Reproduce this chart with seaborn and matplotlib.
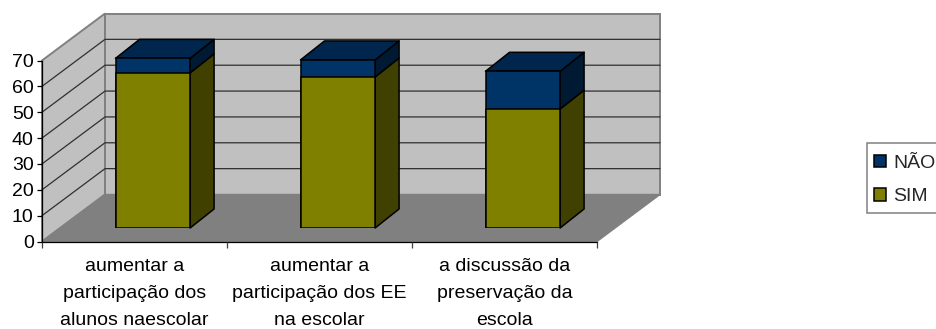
import matplotlib
matplotlib.use('Agg')
import matplotlib.pyplot as plt
from matplotlib.patches import Patch, Polygon, Rectangle
import numpy as np
import seaborn as sns

# dados
categorias = ['aumentar a\nparticipação dos\nalunos naescolar',
              'aumentar a\nparticipação dos EE\nna escolar',
              'a discussão da\npreservação da\nescola']
sim = [60, 58.4, 46]
nao = [5.6, 6.6, 14.6]
y_ticks = [0, 10, 20, 30, 40, 50, 60, 70]

COR_SIM = '#808000'
COR_SIM_LADO = '#404000'
COR_NAO = '#003366'
COR_NAO_TOPO = '#00264d'
COR_NAO_LADO = '#001a33'

sns.set_style('white')
plt.rcParams['font.family'] = ['Liberation Sans', 'DejaVu Sans']

W, H = 937, 329
fig = plt.figure(figsize=(W / 100, H / 100), dpi=100)


def eixo_px(x0, x1, y_base, y_topo):
    return fig.add_axes([x0 / W, 1 - y_base / H, (x1 - x0) / W, (y_base - y_topo) / H])


# parede frontal (eixos)
ax = eixo_px(42, 597, 241.5, 60.5)
ax.set_xlim(-0.5, 2.5)
ax.set_ylim(0, 70)
ax.patch.set_visible(False)

px_x = 185.0
px_y = 181 / 70
fundo_x = 63 / px_x
fundo_y = 47 / px_y

esq, dir_ = -0.5, 2.5
ax.add_patch(Polygon([(esq, 0), (esq + fundo_x, fundo_y), (esq + fundo_x, 70 + fundo_y), (esq, 70)],
                     fc='#c0c0c0', ec='#808080', lw=1.4, clip_on=False, zorder=0.2))
ax.add_patch(Polygon([(esq + fundo_x, fundo_y), (dir_ + fundo_x, fundo_y),
                      (dir_ + fundo_x, 70 + fundo_y), (esq + fundo_x, 70 + fundo_y)],
                     fc='#c0c0c0', ec='#808080', lw=1.4, clip_on=False, zorder=0.2))
ax.add_patch(Polygon([(esq, 0), (dir_, 0), (dir_ + fundo_x, fundo_y), (esq + fundo_x, fundo_y)],
                     fc='#808080', ec='#808080', lw=1, clip_on=False, zorder=0.3))

# grelha nas duas paredes
for v in y_ticks[1:-1]:
    ax.plot([esq, esq + fundo_x, dir_ + fundo_x], [v, v + fundo_y, v + fundo_y],
            color='#303030', lw=0.9, clip_on=False, zorder=0.4)

for lado in ['top', 'right']:
    ax.spines[lado].set_visible(False)
for lado in ['left', 'bottom']:
    ax.spines[lado].set_visible(True)
    ax.spines[lado].set_color('black')
    ax.spines[lado].set_linewidth(0.9)
    ax.spines[lado].set_zorder(0.5)

ax.set_yticks(y_ticks)
ax.tick_params(axis='y', left=True, length=3.5, width=0.9, color='black', labelsize=14, pad=2.5, labelcolor='black')
ax.set_xticks([-0.5, 0.5, 1.5, 2.5])
ax.set_xticklabels([])
ax.set_xticks([0, 1, 2], minor=True)
ax.set_xticklabels(categorias, minor=True, linespacing=1.76, fontsize=14, color='black')
ax.tick_params(axis='x', which='major', bottom=True, length=4.5, width=0.9, color='#404040')
ax.tick_params(axis='x', which='minor', bottom=False, length=0, pad=12)

# barras, no plano deslocado para dentro do chao
ax_b = eixo_px(60.3, 615.3, 228, 47)
totais = [s + n for s, n in zip(sim, nao)]
sns.barplot(x=categorias, y=totais, color=COR_NAO, saturation=1, width=0.403,
            edgecolor='black', linewidth=1.1, errorbar=None, ax=ax_b)
sns.barplot(x=categorias, y=sim, color=COR_SIM, saturation=1, width=0.403,
            edgecolor='black', linewidth=1.1, errorbar=None, ax=ax_b)
ax_b.set_xlim(-0.5, 2.5)
ax_b.set_ylim(0, 70)
ax_b.axis('off')

# faces laterais e de topo, a partir das barras do seaborn
prof_x = 24 / px_x
prof_y = 19 / px_y
barras = list(ax_b.patches)
n_cat = len(categorias)
for b_total, b_sim in zip(barras[:n_cat], barras[n_cat:]):
    x0 = b_total.get_x()
    x1 = x0 + b_total.get_width()
    topo = b_total.get_height()
    meio = b_sim.get_height()
    estilo = dict(ec='black', lw=1.1, clip_on=False, joinstyle='round', zorder=0.5)
    ax_b.add_patch(Polygon([(x1, 0), (x1 + prof_x, prof_y), (x1 + prof_x, meio + prof_y), (x1, meio)],
                           fc=COR_SIM_LADO, **estilo))
    ax_b.add_patch(Polygon([(x1, meio), (x1 + prof_x, meio + prof_y), (x1 + prof_x, topo + prof_y), (x1, topo)],
                           fc=COR_NAO_LADO, **estilo))
    ax_b.add_patch(Polygon([(x0, topo), (x1, topo), (x1 + prof_x, topo + prof_y), (x0 + prof_x, topo + prof_y)],
                           fc=COR_NAO_TOPO, **estilo))

# legenda: caixa separada, sai pela direita da figura
fig.add_artist(Rectangle((867 / W, 1 - 213 / H), 90 / W, 70.5 / H, transform=fig.transFigure,
                         fc='white', ec='#808080', lw=1.1))
pegas = [Patch(fc=COR_NAO, ec='black', lw=1.1, label='NÃO'),
         Patch(fc=COR_SIM, ec='black', lw=1.1, label='SIM')]
fig.legend(handles=pegas, loc='upper left', bbox_to_anchor=(874 / W, 1 - 154.5 / H), borderaxespad=0,
           frameon=False, fontsize=14, handlelength=0.62, handleheight=0.62, handletextpad=0.36,
           labelspacing=0.85, borderpad=0)

fig.savefig('out.png', dpi=100, facecolor='white')
